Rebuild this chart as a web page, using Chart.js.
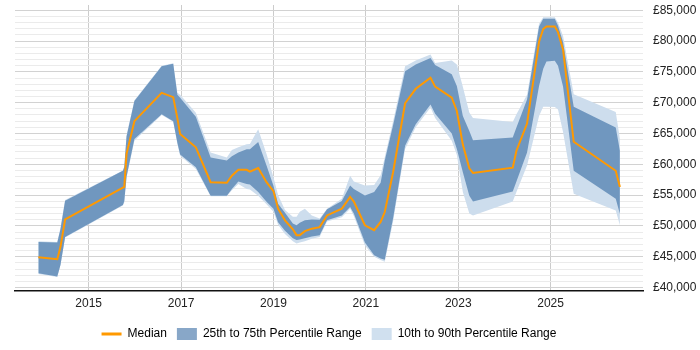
<!DOCTYPE html>
<html>
<head>
<meta charset="utf-8">
<script src="https://cdn.jsdelivr.net/npm/chart.js@4.4.1/dist/chart.umd.min.js"></script>
<style>
html,body{margin:0;padding:0;background:#fff;}
#wrap{width:700px;height:350px;}
</style>
</head>
<body>
<div id="wrap"><canvas id="c" width="700" height="350"></canvas></div>
<script>
// Dates as decimal years
const dates = [2013.91, 2014.32, 2014.39, 2014.49, 2015.74, 2015.77, 2015.82, 2015.99, 2016.58, 2016.83,
  2016.92, 2016.98, 2017.32, 2017.64, 2017.99, 2018.10, 2018.24, 2018.42, 2018.49, 2018.67,
  2018.85, 2019.00, 2019.10, 2019.25, 2019.42, 2019.50, 2019.57, 2019.68, 2019.83, 2020.00,
  2020.16, 2020.48, 2020.66, 2020.74, 2020.98, 2021.18, 2021.32, 2021.41, 2021.59, 2021.85,
  2022.08, 2022.40, 2022.50, 2022.86, 2022.97, 2023.10, 2023.24, 2023.32, 2024.18, 2024.26,
  2024.49, 2024.75, 2024.84, 2024.91, 2025.09, 2025.16, 2025.27, 2025.50, 2026.41, 2026.50];

const median = [44900, 44600, 46600, 51050, 56200, 56300, 61700, 67000, 71600, 70900,
  67500, 64900, 62750, 57100, 57000, 58150, 59100, 59100, 58800, 59400,
  57100, 55650, 52800, 50900, 49450, 48500, 48500, 49150, 49550, 49800,
  51700, 52800, 54700, 53950, 50100, 49300, 50650, 52250, 58700, 69900,
  72250, 74050, 72600, 70800, 68650, 63200, 59350, 58600, 59450, 62200,
  66600, 79900, 81950, 82350, 82350, 81450, 78600, 63650, 58950, 56300];

const p25 = [42300, 41800, 43700, 48200, 53400, 54000, 58000, 64100, 68100, 67000,
  63500, 61600, 59500, 54900, 54900, 56000, 57200, 56800, 56700, 55500,
  53900, 52800, 50600, 49200, 48000, 47700, 47800, 48000, 48300, 48500,
  50900, 51700, 53050, 52000, 47300, 45250, 44700, 44500, 51250, 63000,
  66500, 69700, 68200, 65000, 62500, 58700, 54900, 53950, 55600, 57200,
  61900, 72700, 75500, 76700, 76800, 76000, 72600, 58950, 54400, 51950];

const p75 = [47400, 47300, 49500, 54100, 58950, 59500, 64500, 70250, 75900, 76300,
  71300, 70800, 67700, 61100, 60600, 61300, 61900, 62450, 62450, 63600,
  59800, 56500, 53600, 52150, 50400, 50100, 50500, 50900, 51050, 51000,
  52700, 54050, 56550, 56000, 54950, 55500, 57000, 60600, 66350, 75100,
  76200, 77250, 76100, 74600, 72700, 67850, 65400, 63900, 64350, 65950,
  70500, 82350, 83600, 83600, 83600, 82500, 79800, 69350, 65950, 62200];

const p10 = [42200, 41700, 43600, 48100, 53300, 53800, 57800, 63800, 68000, 66900,
  63300, 61400, 59250, 54800, 54800, 55800, 56800, 56000, 55900, 54900,
  53500, 52300, 50200, 48700, 47500, 47150, 47300, 47500, 47900, 48200,
  50700, 51400, 52800, 51600, 46800, 45000, 44450, 44200, 50700, 62500,
  66000, 69200, 67500, 63800, 61500, 55500, 52000, 51700, 53950, 55500,
  59800, 67850, 69350, 69350, 69300, 68900, 65200, 55200, 52500, 50100];

const p90 = [47500, 47400, 49700, 54200, 59000, 59700, 64800, 70400, 76000, 76400,
  71600, 71300, 68350, 61900, 61100, 62300, 62750, 63250, 63300, 65700,
  61650, 57900, 55000, 52600, 51500, 51500, 52300, 52800, 51700, 51200,
  52800, 54400, 58150, 57200, 56550, 56650, 58200, 61200, 67000, 75900,
  76850, 77800, 76450, 76850, 76200, 72600, 68400, 67500, 66850, 68100,
  71300, 82800, 83850, 83850, 83850, 83000, 80800, 71350, 68500, 64100];

const xTickYears = [2015, 2017, 2019, 2021, 2023, 2025];
const seriesLabels = ['Median', '25th to 75th Percentile Range', '10th to 90th Percentile Range'];

const pts = arr => arr.map((v, i) => ({x: dates[i], y: v}));

const ORANGE = '#ff9900';
const DARK = '#7097bf';
const LIGHT = '#cddded';
const DARK_LEG = '#88a7c8';
const LIGHT_LEG = '#d0e0ef';

Chart.defaults.font.family = "'Liberation Sans', Arial, sans-serif";
Chart.defaults.font.size = 12;
Chart.defaults.color = '#222';

new Chart(document.getElementById('c'), {
  type: 'line',
  data: {
    datasets: [
      {label: seriesLabels[0], data: pts(median), borderColor: ORANGE, borderWidth: 2, pointRadius: 0, fill: false, order: 0, tension: 0},
      {label: seriesLabels[1], data: pts(p75), borderColor: 'transparent', borderWidth: 0, pointRadius: 0, backgroundColor: DARK, fill: '+1', order: 1},
      {label: 'p25', data: pts(p25), borderColor: 'transparent', borderWidth: 0, pointRadius: 0, fill: false, order: 2},
      {label: seriesLabels[2], data: pts(p90), borderColor: 'transparent', borderWidth: 0, pointRadius: 0, backgroundColor: LIGHT, fill: '+1', order: 3},
      {label: 'p10', data: pts(p10), borderColor: 'transparent', borderWidth: 0, pointRadius: 0, fill: false, order: 4}
    ]
  },
  options: {
    responsive: false,
    animation: false,
    devicePixelRatio: 1,
    layout: {padding: {left: 15, top: 5, right: 0, bottom: 0}},
    plugins: {
      tooltip: {enabled: false},
      legend: {
        position: 'bottom',
        fullSize: false,
        labels: {
          usePointStyle: true,
          pointStyleWidth: 20,
          boxWidth: 20,
          boxHeight: 12,
          padding: 10,
          color: '#222',
          generateLabels: () => [
            {text: seriesLabels[0], fillStyle: ORANGE, strokeStyle: ORANGE, lineWidth: 3, pointStyle: 'line', datasetIndex: 0, hidden: false},
            {text: seriesLabels[1], fillStyle: DARK_LEG, strokeStyle: DARK_LEG, lineWidth: 0, pointStyle: 'rect', datasetIndex: 1, hidden: false},
            {text: seriesLabels[2], fillStyle: LIGHT_LEG, strokeStyle: LIGHT_LEG, lineWidth: 0, pointStyle: 'rect', datasetIndex: 3, hidden: false}
          ]
        }
      }
    },
    scales: {
      x: {
        type: 'linear',
        min: 2013.405,
        max: 2027.0,
        afterBuildTicks: axis => { axis.ticks = xTickYears.map(v => ({value: v})); },
        afterFit: axis => { axis.height += 1; axis.paddingLeft = 0; axis.paddingRight = 0; },
        ticks: {autoSkip: false, maxRotation: 0, padding: 6, color: '#222', callback: v => String(v)},
        grid: {color: '#cccccc', drawTicks: false},
        border: {display: true, color: '#111', width: 1.5}
      },
      y: {
        position: 'right',
        min: 39500,
        max: 85850,
        afterBuildTicks: axis => {
          const t = [];
          for (let v = 40000; v <= 85000; v += 1000) t.push({value: v});
          axis.ticks = t;
        },
        afterFit: axis => { axis.width = 57; axis.paddingTop = 0; axis.paddingBottom = 0; },
        ticks: {
          autoSkip: false, padding: 10, color: '#222',
          callback: v => (v % 5000 === 0 ? '£' + v.toLocaleString('en-GB') : '')
        },
        grid: {
          drawTicks: false,
          color: ctx => (ctx.tick && ctx.tick.value % 5000 === 0 ? '#d2d2d2' : '#ebebeb')
        },
        border: {display: false}
      }
    }
  }
});
</script>
</body>
</html>
